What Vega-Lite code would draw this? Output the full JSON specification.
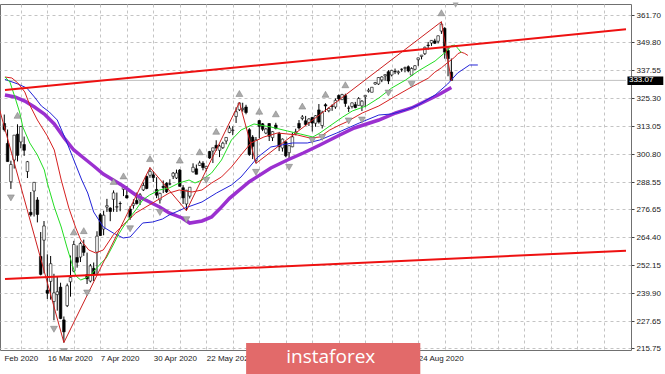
{
  "$schema": "https://vega.github.io/schema/vega-lite/v6.json",
  "width": 631,
  "height": 346,
  "autosize": "none",
  "padding": {"left": 0, "top": 4, "right": 34, "bottom": 24},
  "background": "#ffffff",
  "config": {"view": {"stroke": "#707070", "strokeWidth": 1}, "font": "Liberation Sans"},
  "datasets": {
    "candles": [
      {"i":-13,"d":"2020-02-26","o":314.18,"h":318.11,"l":310.70,"c":311.50},
      {"i":-12,"d":"2020-02-27","o":305.46,"h":311.56,"l":297.51,"c":297.51},
      {"i":-11,"d":"2020-02-28","o":288.70,"h":297.89,"l":285.54,"c":296.26},
      {"i":-10,"d":"2020-03-02","o":298.21,"h":309.16,"l":294.46,"c":309.09},
      {"i":-9,"d":"2020-03-03","o":309.50,"h":313.84,"l":297.57,"c":300.24},
      {"i":-8,"d":"2020-03-04","o":306.12,"h":313.10,"l":303.33,"c":312.86},
      {"i":-7,"d":"2020-03-05","o":304.98,"h":308.47,"l":300.01,"c":302.46},
      {"i":-6,"d":"2020-03-06","o":293.15,"h":297.79,"l":290.31,"c":297.46},
      {"i":-5,"d":"2020-03-09","o":275.30,"h":284.19,"l":273.45,"c":274.23},
      {"i":-4,"d":"2020-03-10","o":284.64,"h":288.52,"l":273.46,"c":288.42},
      {"i":-3,"d":"2020-03-11","o":280.70,"h":281.94,"l":270.88,"c":274.36},
      {"i":-2,"d":"2020-03-12","o":256.00,"h":266.66,"l":247.68,"c":248.11},
      {"i":-1,"d":"2020-03-13","o":263.09,"h":271.48,"l":248.52,"c":269.32},
      {"i":0,"d":"2020-03-16","o":241.18,"h":256.90,"l":237.36,"c":239.85},
      {"i":1,"d":"2020-03-17","o":245.04,"h":256.17,"l":237.07,"c":252.80},
      {"i":2,"d":"2020-03-18","o":236.25,"h":248.37,"l":228.02,"c":240.00},
      {"i":3,"d":"2020-03-19","o":239.25,"h":247.38,"l":232.22,"c":240.51},
      {"i":4,"d":"2020-03-20","o":242.53,"h":244.47,"l":228.50,"c":228.80},
      {"i":5,"d":"2020-03-23","o":228.19,"h":229.68,"l":218.26,"c":222.95},
      {"i":6,"d":"2020-03-24","o":234.42,"h":244.10,"l":233.80,"c":243.15},
      {"i":7,"d":"2020-03-25","o":244.87,"h":256.35,"l":238.36,"c":246.79},
      {"i":8,"d":"2020-03-26","o":249.52,"h":262.80,"l":249.05,"c":261.20},
      {"i":9,"d":"2020-03-27","o":255.52,"h":260.81,"l":251.05,"c":253.42},
      {"i":10,"d":"2020-03-30","o":255.70,"h":262.43,"l":253.53,"c":261.65},
      {"i":11,"d":"2020-03-31","o":260.56,"h":263.33,"l":256.22,"c":257.75},
      {"i":12,"d":"2020-04-01","o":247.98,"h":257.66,"l":243.90,"c":246.15},
      {"i":13,"d":"2020-04-02","o":245.19,"h":252.68,"l":244.59,"c":251.83},
      {"i":14,"d":"2020-04-03","o":250.76,"h":253.32,"l":245.22,"c":248.19},
      {"i":15,"d":"2020-04-06","o":257.84,"h":267.00,"l":248.17,"c":264.86},
      {"i":16,"d":"2020-04-07","o":274.21,"h":275.03,"l":264.89,"c":265.13},
      {"i":17,"d":"2020-04-08","o":267.96,"h":276.00,"l":265.25,"c":274.03},
      {"i":18,"d":"2020-04-09","o":277.58,"h":281.20,"l":275.47,"c":278.20},
      {"i":19,"d":"2020-04-13","o":277.14,"h":277.51,"l":271.41,"c":275.66},
      {"i":20,"d":"2020-04-14","o":280.98,"h":284.90,"l":275.51,"c":283.79},
      {"i":21,"d":"2020-04-15","o":277.57,"h":283.94,"l":275.46,"c":277.76},
      {"i":22,"d":"2020-04-16","o":279.15,"h":280.03,"l":275.76,"c":279.10},
      {"i":23,"d":"2020-04-17","o":285.38,"h":287.30,"l":282.40,"c":286.64},
      {"i":24,"d":"2020-04-20","o":282.61,"h":286.79,"l":281.35,"c":281.59},
      {"i":25,"d":"2020-04-21","o":276.73,"h":278.04,"l":272.02,"c":273.04},
      {"i":26,"d":"2020-04-22","o":278.35,"h":281.00,"l":276.91,"c":279.10},
      {"i":27,"d":"2020-04-23","o":280.49,"h":283.94,"l":278.75,"c":279.08},
      {"i":28,"d":"2020-04-24","o":280.73,"h":283.70,"l":278.50,"c":282.97},
      {"i":29,"d":"2020-04-27","o":285.12,"h":288.27,"l":284.62,"c":287.05},
      {"i":30,"d":"2020-04-28","o":291.02,"h":291.40,"l":285.40,"c":285.73},
      {"i":31,"d":"2020-04-29","o":291.53,"h":294.88,"l":290.41,"c":293.21},
      {"i":32,"d":"2020-04-30","o":291.71,"h":293.32,"l":288.59,"c":290.48},
      {"i":33,"d":"2020-05-01","o":285.31,"h":290.66,"l":281.52,"c":282.79},
      {"i":34,"d":"2020-05-04","o":280.74,"h":283.90,"l":279.13,"c":283.57},
      {"i":35,"d":"2020-05-05","o":286.64,"h":289.25,"l":283.71,"c":286.19},
      {"i":36,"d":"2020-05-06","o":288.04,"h":288.46,"l":283.78,"c":284.25},
      {"i":37,"d":"2020-05-07","o":287.75,"h":289.78,"l":287.13,"c":287.68},
      {"i":38,"d":"2020-05-08","o":291.09,"h":292.95,"l":289.86,"c":292.44},
      {"i":39,"d":"2020-05-11","o":290.34,"h":294.00,"l":289.88,"c":292.50},
      {"i":40,"d":"2020-05-12","o":293.79,"h":294.24,"l":286.52,"c":286.67},
      {"i":41,"d":"2020-05-13","o":286.06,"h":287.19,"l":278.97,"c":281.60},
      {"i":42,"d":"2020-05-14","o":278.95,"h":285.11,"l":276.00,"c":284.97},
      {"i":43,"d":"2020-05-15","o":282.37,"h":286.33,"l":281.34,"c":286.28},
      {"i":44,"d":"2020-05-18","o":293.05,"h":296.75,"l":292.70,"c":295.00},
      {"i":45,"d":"2020-05-19","o":294.35,"h":296.21,"l":291.95,"c":291.97},
      {"i":46,"d":"2020-05-20","o":295.82,"h":297.87,"l":295.57,"c":296.93},
      {"i":47,"d":"2020-05-21","o":296.79,"h":297.67,"l":293.69,"c":294.88},
      {"i":48,"d":"2020-05-22","o":294.57,"h":295.63,"l":293.22,"c":295.44},
      {"i":49,"d":"2020-05-26","o":301.93,"h":302.19,"l":298.69,"c":299.08},
      {"i":50,"d":"2020-05-27","o":302.12,"h":303.57,"l":296.87,"c":303.53},
      {"i":51,"d":"2020-05-28","o":304.65,"h":306.84,"l":302.24,"c":303.43},
      {"i":52,"d":"2020-05-29","o":302.46,"h":304.96,"l":299.47,"c":304.32},
      {"i":53,"d":"2020-06-01","o":303.62,"h":306.21,"l":303.06,"c":305.55},
      {"i":54,"d":"2020-06-02","o":306.55,"h":308.13,"l":305.10,"c":308.08},
      {"i":55,"d":"2020-06-03","o":310.24,"h":313.22,"l":309.94,"c":312.18},
      {"i":56,"d":"2020-06-04","o":311.11,"h":313.00,"l":309.08,"c":311.36},
      {"i":57,"d":"2020-06-05","o":317.23,"h":321.27,"l":314.43,"c":319.34},
      {"i":58,"d":"2020-06-08","o":320.22,"h":323.41,"l":319.63,"c":323.20},
      {"i":59,"d":"2020-06-09","o":320.30,"h":323.28,"l":319.36,"c":320.79},
      {"i":60,"d":"2020-06-10","o":321.42,"h":322.39,"l":318.22,"c":319.00},
      {"i":61,"d":"2020-06-11","o":311.46,"h":312.15,"l":300.01,"c":300.61},
      {"i":62,"d":"2020-06-12","o":308.24,"h":309.08,"l":298.60,"c":304.21},
      {"i":63,"d":"2020-06-15","o":298.02,"h":308.28,"l":296.74,"c":307.05},
      {"i":64,"d":"2020-06-16","o":315.48,"h":315.64,"l":307.67,"c":312.96},
      {"i":65,"d":"2020-06-17","o":314.07,"h":314.39,"l":310.86,"c":311.66},
      {"i":66,"d":"2020-06-18","o":310.01,"h":312.30,"l":309.51,"c":311.78},
      {"i":67,"d":"2020-06-19","o":314.17,"h":314.38,"l":306.53,"c":308.64},
      {"i":68,"d":"2020-06-22","o":307.99,"h":310.80,"l":306.50,"c":310.62},
      {"i":69,"d":"2020-06-23","o":313.49,"h":314.50,"l":311.61,"c":312.05},
      {"i":70,"d":"2020-06-24","o":309.84,"h":310.51,"l":302.10,"c":304.09},
      {"i":71,"d":"2020-06-25","o":303.47,"h":307.64,"l":301.88,"c":307.35},
      {"i":72,"d":"2020-06-26","o":306.16,"h":306.39,"l":299.42,"c":300.05},
      {"i":73,"d":"2020-06-29","o":301.41,"h":304.61,"l":298.93,"c":304.46},
      {"i":74,"d":"2020-06-30","o":303.99,"h":310.20,"l":303.82,"c":308.36},
      {"i":75,"d":"2020-07-01","o":309.57,"h":311.89,"l":309.07,"c":310.52},
      {"i":76,"d":"2020-07-02","o":314.24,"h":315.70,"l":311.51,"c":312.23},
      {"i":77,"d":"2020-07-06","o":316.37,"h":317.88,"l":315.56,"c":317.05},
      {"i":78,"d":"2020-07-07","o":315.38,"h":317.52,"l":313.37,"c":313.78},
      {"i":79,"d":"2020-07-08","o":314.61,"h":316.50,"l":313.09,"c":316.18},
      {"i":80,"d":"2020-07-09","o":316.84,"h":317.10,"l":310.68,"c":314.38},
      {"i":81,"d":"2020-07-10","o":314.31,"h":317.88,"l":312.76,"c":317.59},
      {"i":82,"d":"2020-07-13","o":320.13,"h":322.71,"l":314.13,"c":314.84},
      {"i":83,"d":"2020-07-14","o":313.30,"h":319.76,"l":312.00,"c":318.92},
      {"i":84,"d":"2020-07-15","o":322.41,"h":323.04,"l":319.27,"c":321.85},
      {"i":85,"d":"2020-07-16","o":319.79,"h":321.28,"l":319.09,"c":320.79},
      {"i":86,"d":"2020-07-17","o":321.88,"h":322.57,"l":319.74,"c":321.72},
      {"i":87,"d":"2020-07-20","o":321.43,"h":325.13,"l":320.62,"c":324.32},
      {"i":88,"d":"2020-07-21","o":326.45,"h":326.93,"l":323.94,"c":325.01},
      {"i":89,"d":"2020-07-22","o":324.62,"h":327.20,"l":324.50,"c":326.86},
      {"i":90,"d":"2020-07-23","o":326.47,"h":327.23,"l":321.48,"c":322.96},
      {"i":91,"d":"2020-07-24","o":320.95,"h":321.99,"l":319.25,"c":320.88},
      {"i":92,"d":"2020-07-27","o":321.63,"h":323.41,"l":320.77,"c":323.22},
      {"i":93,"d":"2020-07-28","o":322.43,"h":323.64,"l":320.85,"c":321.17},
      {"i":94,"d":"2020-07-29","o":322.12,"h":325.73,"l":322.08,"c":325.12},
      {"i":95,"d":"2020-07-30","o":321.90,"h":324.41,"l":319.64,"c":323.96},
      {"i":96,"d":"2020-07-31","o":325.90,"h":326.63,"l":321.33,"c":326.52},
      {"i":97,"d":"2020-08-03","o":328.32,"h":329.62,"l":327.73,"c":328.79},
      {"i":98,"d":"2020-08-04","o":327.86,"h":330.06,"l":327.86,"c":330.06},
      {"i":99,"d":"2020-08-05","o":331.47,"h":332.39,"l":331.18,"c":332.11},
      {"i":100,"d":"2020-08-06","o":331.48,"h":334.46,"l":331.13,"c":334.33},
      {"i":101,"d":"2020-08-07","o":333.28,"h":334.88,"l":332.30,"c":334.57},
      {"i":102,"d":"2020-08-10","o":335.06,"h":335.77,"l":332.96,"c":335.57},
      {"i":103,"d":"2020-08-11","o":336.85,"h":337.54,"l":331.44,"c":332.80},
      {"i":104,"d":"2020-08-12","o":335.44,"h":337.71,"l":334.80,"c":337.44},
      {"i":105,"d":"2020-08-13","o":336.99,"h":338.25,"l":335.83,"c":336.83},
      {"i":106,"d":"2020-08-14","o":336.41,"h":337.42,"l":335.62,"c":336.84},
      {"i":107,"d":"2020-08-17","o":337.94,"h":338.34,"l":336.85,"c":337.91},
      {"i":108,"d":"2020-08-18","o":338.34,"h":339.10,"l":336.61,"c":338.64},
      {"i":109,"d":"2020-08-19","o":339.05,"h":339.61,"l":336.62,"c":337.23},
      {"i":110,"d":"2020-08-20","o":335.36,"h":338.80,"l":335.22,"c":338.28},
      {"i":111,"d":"2020-08-21","o":337.92,"h":339.72,"l":337.55,"c":339.48},
      {"i":112,"d":"2020-08-24","o":342.12,"h":343.00,"l":339.45,"c":342.92},
      {"i":113,"d":"2020-08-25","o":343.53,"h":344.21,"l":342.27,"c":344.12},
      {"i":114,"d":"2020-08-26","o":344.76,"h":347.86,"l":344.17,"c":347.57},
      {"i":115,"d":"2020-08-27","o":348.51,"h":349.90,"l":346.53,"c":348.33},
      {"i":116,"d":"2020-08-28","o":349.44,"h":350.72,"l":348.15,"c":350.58},
      {"i":117,"d":"2020-08-31","o":350.35,"h":351.30,"l":349.06,"c":349.31},
      {"i":118,"d":"2020-09-01","o":350.21,"h":352.71,"l":349.24,"c":352.60},
      {"i":119,"d":"2020-09-02","o":354.67,"h":358.75,"l":353.43,"c":357.70},
      {"i":120,"d":"2020-09-03","o":355.87,"h":356.38,"l":342.59,"c":345.39},
      {"i":121,"d":"2020-09-04","o":346.13,"h":347.83,"l":334.87,"c":342.57},
      {"i":122,"d":"2020-09-08","o":336.71,"h":342.64,"l":332.88,"c":333.07}
    ],
    "ind": [
      {"s":"jaw","i":-12.8,"v":333.5},{"s":"jaw","i":-8.9,"v":331.49},{"s":"jaw","i":-6.2,"v":329.74},{"s":"jaw","i":-3.9,"v":325.8},{"s":"jaw","i":-1.8,"v":321.86},{"s":"jaw","i":0.6,"v":319.23},{"s":"jaw","i":3.0,"v":315.72},{"s":"jaw","i":5.6,"v":306.97},{"s":"jaw","i":8.0,"v":298.21},{"s":"jaw","i":10.4,"v":289.45},{"s":"jaw","i":12.2,"v":283.76},{"s":"jaw","i":14.0,"v":275.44},{"s":"jaw","i":16.9,"v":268.87},{"s":"jaw","i":19.9,"v":266.24},{"s":"jaw","i":22.9,"v":264.05},{"s":"jaw","i":25.0,"v":264.49},{"s":"jaw","i":28.8,"v":270.62},{"s":"jaw","i":31.8,"v":271.06},{"s":"jaw","i":34.8,"v":272.37},{"s":"jaw","i":36.8,"v":274.13},{"s":"jaw","i":41.6,"v":277.19},{"s":"jaw","i":46.7,"v":279.82},{"s":"jaw","i":51.1,"v":283.76},{"s":"jaw","i":55.6,"v":287.26},{"s":"jaw","i":58.5,"v":290.77},{"s":"jaw","i":63.6,"v":299.52},{"s":"jaw","i":67.5,"v":303.9},{"s":"jaw","i":74.0,"v":305.65},{"s":"jaw","i":78.5,"v":305.65},{"s":"jaw","i":82.3,"v":306.97},{"s":"jaw","i":87.4,"v":310.03},{"s":"jaw","i":94.2,"v":314.41},{"s":"jaw","i":100.1,"v":317.91},{"s":"jaw","i":104.0,"v":318.35},{"s":"jaw","i":108.2,"v":320.1},{"s":"jaw","i":112.0,"v":322.29},{"s":"jaw","i":117.1,"v":326.67},{"s":"jaw","i":120.9,"v":331.49},{"s":"jaw","i":123.9,"v":336.31},{"s":"jaw","i":127.5,"v":339.81},{"s":"jaw","i":130,"v":339.81},
      {"s":"teeth","i":-12.8,"v":334.55},{"s":"teeth","i":-10.7,"v":334.12},{"s":"teeth","i":-8.9,"v":331.93},{"s":"teeth","i":-6.8,"v":327.99},{"s":"teeth","i":-5.3,"v":322.29},{"s":"teeth","i":-3.0,"v":315.72},{"s":"teeth","i":0,"v":308.72},{"s":"teeth","i":2.1,"v":302.59},{"s":"teeth","i":4.2,"v":289.45},{"s":"teeth","i":6.5,"v":277.19},{"s":"teeth","i":8.6,"v":268.43},{"s":"teeth","i":10.1,"v":263.18},{"s":"teeth","i":12.5,"v":258.8},{"s":"teeth","i":14.6,"v":257.49},{"s":"teeth","i":16.9,"v":258.8},{"s":"teeth","i":19.9,"v":265.37},{"s":"teeth","i":22.9,"v":269.75},{"s":"teeth","i":26.7,"v":275.0},{"s":"teeth","i":31.8,"v":279.38},{"s":"teeth","i":36.8,"v":283.76},{"s":"teeth","i":39.8,"v":285.07},{"s":"teeth","i":43.7,"v":284.2},{"s":"teeth","i":46.7,"v":285.07},{"s":"teeth","i":49.6,"v":288.14},{"s":"teeth","i":52.6,"v":290.77},{"s":"teeth","i":55.6,"v":295.14},{"s":"teeth","i":58.5,"v":300.4},{"s":"teeth","i":61.5,"v":305.65},{"s":"teeth","i":65.4,"v":308.28},{"s":"teeth","i":69.5,"v":310.03},{"s":"teeth","i":75.5,"v":309.16},{"s":"teeth","i":79.3,"v":307.84},{"s":"teeth","i":82.3,"v":308.28},{"s":"teeth","i":85.3,"v":311.35},{"s":"teeth","i":88.3,"v":313.54},{"s":"teeth","i":90.3,"v":314.85},{"s":"teeth","i":95.1,"v":318.79},{"s":"teeth","i":100.1,"v":321.86},{"s":"teeth","i":105.2,"v":326.23},{"s":"teeth","i":110.0,"v":330.18},{"s":"teeth","i":115,"v":334.0},{"s":"teeth","i":117,"v":336.65},{"s":"teeth","i":119,"v":338.6},{"s":"teeth","i":121,"v":341.0},{"s":"teeth","i":122,"v":342.1},{"s":"teeth","i":123,"v":343.2},{"s":"teeth","i":124,"v":344.8},{"s":"teeth","i":125,"v":345.4},{"s":"teeth","i":126,"v":344.9},{"s":"teeth","i":127,"v":344.0},
      {"s":"lips","i":-12.8,"v":334.55},{"s":"lips","i":-11.3,"v":332.36},{"s":"lips","i":-9.8,"v":325.8},{"s":"lips","i":-8.3,"v":318.79},{"s":"lips","i":-7.4,"v":312.66},{"s":"lips","i":-5.3,"v":305.65},{"s":"lips","i":-3.0,"v":300.4},{"s":"lips","i":-0.9,"v":293.83},{"s":"lips","i":0,"v":288.14},{"s":"lips","i":2.1,"v":277.63},{"s":"lips","i":4.2,"v":268.87},{"s":"lips","i":5.9,"v":260.11},{"s":"lips","i":7.1,"v":254.42},{"s":"lips","i":8.6,"v":247.41},{"s":"lips","i":10.1,"v":245.66},{"s":"lips","i":11.6,"v":246.54},{"s":"lips","i":13.4,"v":248.29},{"s":"lips","i":14.9,"v":250.92},{"s":"lips","i":16.3,"v":253.11},{"s":"lips","i":17.8,"v":255.3},{"s":"lips","i":19.9,"v":260.99},{"s":"lips","i":21.4,"v":265.37},{"s":"lips","i":22.9,"v":268.87},{"s":"lips","i":25.0,"v":273.25},{"s":"lips","i":26.7,"v":276.31},{"s":"lips","i":28.8,"v":280.69},{"s":"lips","i":30.9,"v":282.88},{"s":"lips","i":33.9,"v":285.07},{"s":"lips","i":36.8,"v":285.95},{"s":"lips","i":39.8,"v":288.14},{"s":"lips","i":42.8,"v":289.45},{"s":"lips","i":44.6,"v":288.14},{"s":"lips","i":46.7,"v":289.45},{"s":"lips","i":49.6,"v":292.52},{"s":"lips","i":52.6,"v":298.21},{"s":"lips","i":55.6,"v":306.97},{"s":"lips","i":58.5,"v":311.35},{"s":"lips","i":62.4,"v":313.97},{"s":"lips","i":67.5,"v":312.66},{"s":"lips","i":72.5,"v":310.91},{"s":"lips","i":76.4,"v":309.59},{"s":"lips","i":80.2,"v":308.28},{"s":"lips","i":82.3,"v":310.03},{"s":"lips","i":85.3,"v":313.1},{"s":"lips","i":89.2,"v":317.04},{"s":"lips","i":92.1,"v":319.67},{"s":"lips","i":96.3,"v":321.86},{"s":"lips","i":100.1,"v":325.36},{"s":"lips","i":104.0,"v":329.74},{"s":"lips","i":108.2,"v":333.24},{"s":"lips","i":112.0,"v":337.18},{"s":"lips","i":117.1,"v":341.56},{"s":"lips","i":121,"v":346.4},{"s":"lips","i":122,"v":348.3},{"s":"lips","i":123,"v":348.5},{"s":"lips","i":124,"v":347.1},{"s":"lips","i":125,"v":345.2},
      {"s":"sma","i":-12.8,"v":326.67},{"s":"sma","i":-9.8,"v":325.8},{"s":"sma","i":-6.8,"v":324.04},{"s":"sma","i":-3.9,"v":321.42},{"s":"sma","i":-0.9,"v":318.35},{"s":"sma","i":2.1,"v":313.97},{"s":"sma","i":5.1,"v":307.84},{"s":"sma","i":8.0,"v":302.59},{"s":"sma","i":11.0,"v":299.08},{"s":"sma","i":14.0,"v":295.58},{"s":"sma","i":16.9,"v":292.08},{"s":"sma","i":19.9,"v":289.45},{"s":"sma","i":22.9,"v":286.82},{"s":"sma","i":26.7,"v":282.88},{"s":"sma","i":30.9,"v":279.82},{"s":"sma","i":33.9,"v":277.63},{"s":"sma","i":36.8,"v":275.0},{"s":"sma","i":40.7,"v":272.81},{"s":"sma","i":43,"v":270.6},{"s":"sma","i":46.7,"v":271.5},{"s":"sma","i":49.6,"v":273.25},{"s":"sma","i":52,"v":276.7},{"s":"sma","i":55,"v":281.4},{"s":"sma","i":61,"v":288.7},{"s":"sma","i":67.5,"v":294.71},{"s":"sma","i":72.5,"v":298.21},{"s":"sma","i":77.3,"v":301.27},{"s":"sma","i":82.3,"v":304.78},{"s":"sma","i":88.3,"v":309.16},{"s":"sma","i":92.7,"v":312.22},{"s":"sma","i":100.1,"v":315.72},{"s":"sma","i":105.2,"v":318.79},{"s":"sma","i":110.0,"v":320.98},{"s":"sma","i":118.0,"v":326.67},{"s":"sma","i":122,"v":329.95}
    ],
    "zz": [
      {"i":-18,"v":339.08},{"i":5,"v":218.26},{"i":31,"v":294.88},{"i":42,"v":276.00},{"i":58,"v":323.41},{"i":63,"v":296.74},{"i":119,"v":358.75},{"i":122,"v":332.88}
    ],
    "trend": [
      {"s":"upper","i":-12.78,"v":328.84},{"s":"upper","i":174.74,"v":355.42},
      {"s":"lower","i":-12.78,"v":246.08},{"s":"lower","i":174.74,"v":258.48}
    ],
    "fractals": [
      {"t":"up","i":-9,"p":313.84},{"t":"up","i":8,"p":262.80},{"t":"up","i":11,"p":263.33},{"t":"up","i":20,"p":284.90},{"t":"up","i":23,"p":287.30},{"t":"up","i":31,"p":294.88},{"t":"up","i":40,"p":294.24},{"t":"up","i":46,"p":297.87},{"t":"up","i":51,"p":306.84},{"t":"up","i":58,"p":323.41},{"t":"up","i":64,"p":315.64},{"t":"up","i":69,"p":314.50},{"t":"up","i":77,"p":317.88},{"t":"up","i":84,"p":323.04},{"t":"up","i":90,"p":327.23},{"t":"up","i":119,"p":358.75},
      {"t":"down","i":-11,"p":285.54},{"t":"down","i":2,"p":228.02},{"t":"down","i":5,"p":218.26},{"t":"down","i":12,"p":243.90},{"t":"down","i":25,"p":272.02},{"t":"down","i":34,"p":279.13},{"t":"down","i":42,"p":276.00},{"t":"down","i":48,"p":293.22},{"t":"down","i":63,"p":296.74},{"t":"down","i":73,"p":298.93},{"t":"down","i":80,"p":310.68},{"t":"down","i":83,"p":312.00},{"t":"down","i":91,"p":319.25},{"t":"down","i":95,"p":319.64},{"t":"down","i":103,"p":331.44},{"t":"down","i":110,"p":335.22}
    ],
    "price": [{"price": 333.07}],
    "brand": [{"brand": "instaforex"}],
    "shift": [{"marker": "chart shift"}]
  },
  "layer": [
    {
      "data": {"name": "price"},
      "mark": {"type": "rule", "color": "#c0c0c0", "strokeWidth": 1},
      "encoding": {
        "x": {"datum": -12.78, "type": "quantitative",
          "scale": {"domain": [-12.78, 174.74], "nice": false, "zero": false},
          "axis": {
            "orient": "bottom", "title": null, "zindex": 0, "tickCount": 200,
            "values": [-8,0,8,16,24,32,40,48,56,64,72,80,88,96,104,112,120,128,136,144,152,160,168],
            "labelExpr": "datum.value == -8 ? 'Feb 2020' : datum.value == 0 ? '16 Mar 2020' : datum.value == 16 ? '7 Apr 2020' : datum.value == 32 ? '30 Apr 2020' : datum.value == 48 ? '22 May 2020' : datum.value == 112 ? '24 Aug 2020' : ''",
            "labelAlign": {"condition": {"test": "datum.value == -8", "value": "center"}, "value": "left"},
            "labelBaseline": "top", "labelPadding": 4, "labelDx": 1,
            "labelFontSize": 8, "labelColor": "#1a1a1a", "labelFont": "Liberation Sans",
            "labelOverlap": false, "labelBound": false, "labelFlush": false,
            "ticks": false, "domain": false,
            "grid": true, "gridColor": "#c4c4c4", "gridDash": [3, 3], "gridWidth": 1
          }
        },
        "x2": {"datum": 174.74},
        "y": {"field": "price", "type": "quantitative",
          "scale": {"domain": [215.0, 366.52], "nice": false, "zero": false},
          "axis": {
            "orient": "right", "title": null, "zindex": 0, "tickCount": 200,
            "values": [215.75, 227.65, 239.90, 252.15, 264.40, 276.65, 288.55, 300.80, 313.05, 325.30, 337.55, 349.80, 361.70],
            "format": ".2f",
            "labelFontSize": 8, "labelColor": "#1a1a1a", "labelFont": "Liberation Sans", "labelPadding": 2,
            "tickSize": 3, "tickColor": "#444444", "domain": false,
            "labelOverlap": false, "labelBound": false, "labelFlush": false,
            "grid": true, "gridColor": "#c4c4c4", "gridDash": [3, 3], "gridWidth": 1
          }
        }
      }
    },
    {
      "data": {"name": "candles"},
      "mark": {"type": "rule", "color": "#000000", "strokeWidth": 1, "clip": true},
      "encoding": {
        "x": {"field": "i", "type": "quantitative"},
        "y": {"field": "l", "type": "quantitative"},
        "y2": {"field": "h"}
      }
    },
    {
      "data": {"name": "candles"},
      "mark": {"type": "bar", "width": 2.6, "stroke": "#000000", "strokeWidth": 0.6, "clip": true},
      "encoding": {
        "x": {"field": "i", "type": "quantitative"},
        "y": {"field": "o", "type": "quantitative"},
        "y2": {"field": "c"},
        "fill": {"condition": {"test": "datum.c >= datum.o", "value": "#ffffff"}, "value": "#000000"}
      }
    },
    {
      "data": {"name": "ind"},
      "transform": [{"filter": "datum.s == 'sma'"}],
      "mark": {"type": "line", "color": "#9b30d0", "strokeWidth": 3.5, "clip": true},
      "encoding": {
        "x": {"field": "i", "type": "quantitative"},
        "y": {"field": "v", "type": "quantitative"}
      }
    },
    {
      "data": {"name": "ind"},
      "transform": [{"filter": "datum.s == 'jaw'"}],
      "mark": {"type": "line", "color": "#2323d8", "strokeWidth": 1, "clip": true},
      "encoding": {
        "x": {"field": "i", "type": "quantitative"},
        "y": {"field": "v", "type": "quantitative"}
      }
    },
    {
      "data": {"name": "ind"},
      "transform": [{"filter": "datum.s == 'teeth'"}],
      "mark": {"type": "line", "color": "#d62020", "strokeWidth": 1, "clip": true},
      "encoding": {
        "x": {"field": "i", "type": "quantitative"},
        "y": {"field": "v", "type": "quantitative"}
      }
    },
    {
      "data": {"name": "ind"},
      "transform": [{"filter": "datum.s == 'lips'"}],
      "mark": {"type": "line", "color": "#22dd22", "strokeWidth": 1, "clip": true},
      "encoding": {
        "x": {"field": "i", "type": "quantitative"},
        "y": {"field": "v", "type": "quantitative"}
      }
    },
    {
      "data": {"name": "zz"},
      "mark": {"type": "line", "color": "#cc1f1f", "strokeWidth": 1, "clip": true},
      "encoding": {
        "x": {"field": "i", "type": "quantitative"},
        "y": {"field": "v", "type": "quantitative"}
      }
    },
    {
      "data": {"name": "fractals"},
      "transform": [{"filter": "datum.t == 'up'"}],
      "mark": {"type": "point", "shape": "triangle-up", "filled": true, "size": 48, "fill": "#ababab", "stroke": "#7a7a7a", "strokeWidth": 0.5, "opacity": 1, "yOffset": -9, "clip": true},
      "encoding": {
        "x": {"field": "i", "type": "quantitative"},
        "y": {"field": "p", "type": "quantitative"}
      }
    },
    {
      "data": {"name": "fractals"},
      "transform": [{"filter": "datum.t == 'down'"}],
      "mark": {"type": "point", "shape": "triangle-down", "filled": true, "size": 48, "fill": "#ababab", "stroke": "#7a7a7a", "strokeWidth": 0.5, "opacity": 1, "yOffset": 9, "clip": true},
      "encoding": {
        "x": {"field": "i", "type": "quantitative"},
        "y": {"field": "p", "type": "quantitative"}
      }
    },
    {
      "data": {"name": "trend"},
      "mark": {"type": "line", "color": "#ee1111", "strokeWidth": 2, "clip": true},
      "encoding": {
        "x": {"field": "i", "type": "quantitative"},
        "y": {"field": "v", "type": "quantitative"},
        "detail": {"field": "s"}
      }
    },
    {
      "data": {"name": "shift"},
      "mark": {"type": "point", "shape": "triangle-down", "filled": true, "size": 36, "fill": "#a6a6a6", "opacity": 1},
      "encoding": {
        "x": {"datum": 123.3, "type": "quantitative"},
        "y": {"datum": 366.0, "type": "quantitative"}
      }
    },
    {
      "data": {"name": "price"},
      "mark": {"type": "rect", "color": "#000000"},
      "encoding": {
        "x": {"datum": 175.18, "type": "quantitative"},
        "x2": {"datum": 186},
        "y": {"datum": 334.77, "type": "quantitative"},
        "y2": {"datum": 331.05}
      }
    },
    {
      "data": {"name": "price"},
      "mark": {"type": "text", "color": "#ffffff", "align": "left", "baseline": "middle", "fontSize": 8, "font": "Liberation Sans"},
      "encoding": {
        "x": {"datum": 175.63, "type": "quantitative"},
        "y": {"field": "price", "type": "quantitative"},
        "text": {"field": "price", "type": "quantitative", "format": ".2f"}
      }
    },
    {
      "data": {"name": "brand"},
      "mark": {"type": "rect", "color": "#e26a6a"},
      "encoding": {
        "x": {"datum": 60.03, "type": "quantitative"},
        "x2": {"datum": 112.63},
        "y": {"datum": 218.08, "type": "quantitative"},
        "y2": {"datum": 204.0}
      }
    },
    {
      "data": {"name": "brand"},
      "mark": {"type": "text", "color": "#ffffff", "align": "center", "baseline": "middle", "fontSize": 19, "font": "Open Sans"},
      "encoding": {
        "x": {"datum": 85.6, "type": "quantitative"},
        "y": {"datum": 211.95, "type": "quantitative"},
        "text": {"field": "brand"}
      }
    }
  ]
}
